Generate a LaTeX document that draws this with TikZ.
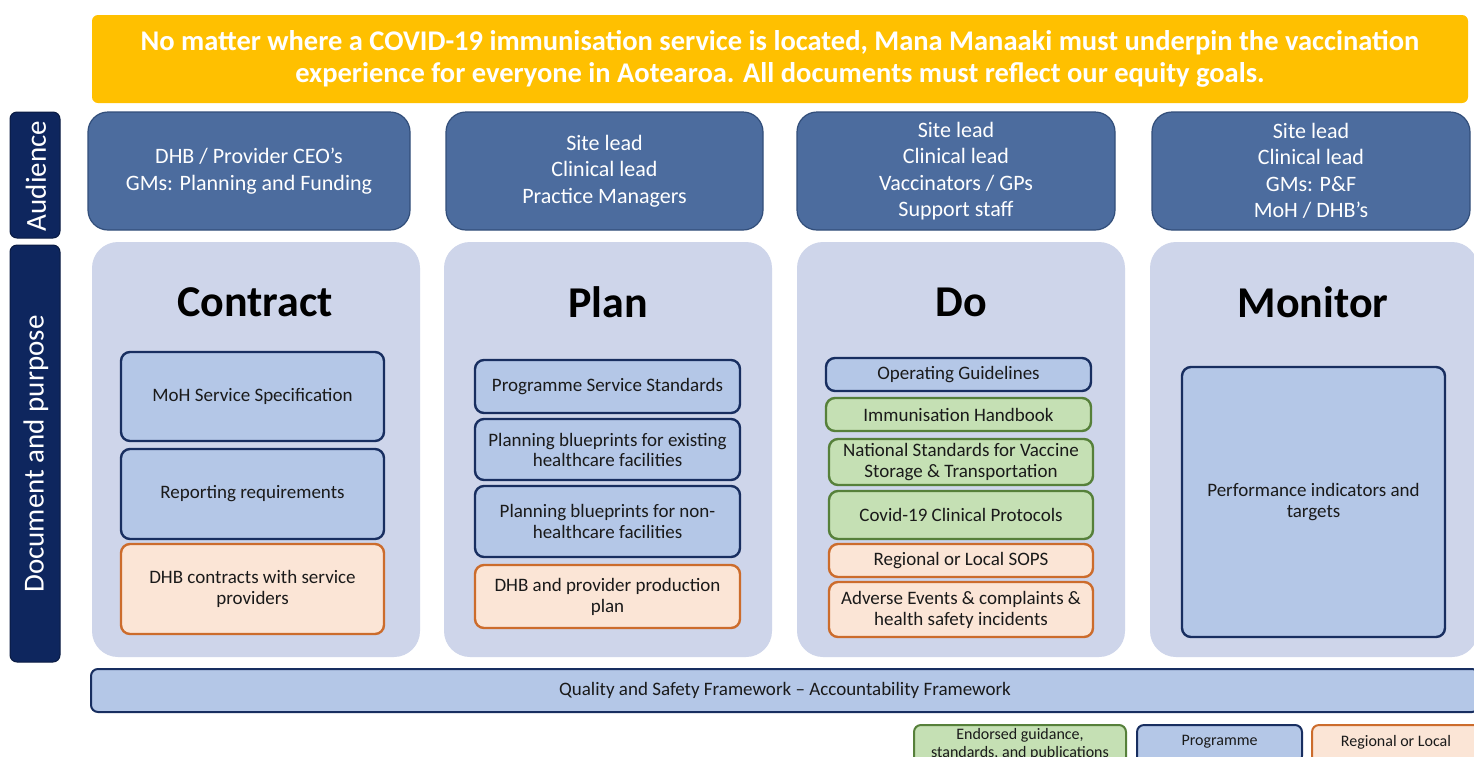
\documentclass[tikz,border=0pt]{standalone}
\usepackage{fontspec}
\setmainfont{Carlito}
\definecolor{ybanner}{RGB}{255,192,0}
\definecolor{audfill}{RGB}{76,108,158}
\definecolor{auddraw}{RGB}{50,78,122}
\definecolor{navylab}{RGB}{14,38,94}
\definecolor{colfill}{RGB}{206,213,234}
\definecolor{bluefill}{RGB}{180,199,231}
\definecolor{bluedraw}{RGB}{24,46,96}
\definecolor{orfill}{RGB}{251,229,214}
\definecolor{ordraw}{RGB}{204,108,44}
\definecolor{grfill}{RGB}{197,224,180}
\definecolor{grdraw}{RGB}{86,128,58}
\definecolor{txt}{RGB}{26,26,26}
\tikzset{
  banner/.style={fill=ybanner, rounded corners=6pt, inner sep=0pt, text=white, align=center,
    font=\fontsize{28.5}{32}\selectfont\bfseries},
  sidelab/.style={fill=navylab, draw=navylab!70!black, line width=1pt, rounded corners=7pt, inner sep=0pt, text=white},
  sidetext/.style={text=white, font=\fontsize{29}{30}\selectfont, rotate=90, inner sep=0pt},
  audbox/.style={fill=audfill, draw=auddraw, line width=1.2pt, rounded corners=20pt, inner sep=0pt, text=white, align=center,
    font=\fontsize{22}{26.5}\selectfont},
  colbox/.style={fill=colfill, rounded corners=26pt, inner sep=0pt},
  coltitle/.style={font=\fontsize{44}{48}\selectfont\bfseries, text=black, inner sep=0pt},
  bluebox/.style={fill=bluefill, draw=bluedraw, line width=2.4pt, rounded corners=9pt, inner sep=0pt, text=txt, align=center,
    font=\fontsize{19}{21}\selectfont},
  orbox/.style={bluebox, fill=orfill, draw=ordraw},
  grbox/.style={bluebox, fill=grfill, draw=grdraw},
  smallfont/.style={font=\fontsize{19}{21}\selectfont},
  legfont/.style={font=\fontsize{16}{18.5}\selectfont, line width=2pt},
}
\begin{document}
\begin{tikzpicture}[x=1pt,y=-1pt]
\useasboundingbox (0,0) rectangle (1474,756);
\clip (0,0) rectangle (1474,756);
\fill[white] (0,0) rectangle (1474,756);

% banner
\node[banner, minimum width=1376, minimum height=88] (banner) at (780,59)
  {No matter where a COVID-19 immunisation service is located, Mana Manaaki must underpin the vaccination\\
   experience for everyone in Aotearoa. All documents must reflect our equity goals.};

% side labels
\node[sidelab, minimum width=50, minimum height=126] (audlab) at (35,175) {};
\node[sidetext] (audtext) at (36,176) {Audience};
\node[sidelab, minimum width=50, minimum height=417] (doclab) at (35,453.5) {};
\node[sidetext] (doctext) at (36,454) {Document and purpose};

% audience boxes
\node[audbox, minimum width=322, minimum height=118] (a1) at (249,171) {DHB / Provider CEO’s\\GMs: Planning and Funding};
\node[audbox, minimum width=317, minimum height=118] (a2) at (604.5,171) {Site lead\\Clinical lead\\Practice Managers};
\node[audbox, minimum width=318, minimum height=118] (a3) at (956,171) {Site lead\\Clinical lead\\Vaccinators / GPs\\Support staff};
\node[audbox, minimum width=318, minimum height=118] (a4) at (1311,171) {Site lead\\Clinical lead\\GMs: P\&F\\MoH / DHB’s};

% columns
\node[colbox, minimum width=328, minimum height=415] (c1) at (256,449.5) {};
\node[colbox, minimum width=328, minimum height=415] (c2) at (608,449.5) {};
\node[colbox, minimum width=328, minimum height=415] (c3) at (961,449.5) {};
\node[colbox, minimum width=328, minimum height=415] (c4) at (1314,449.5) {};

\node[coltitle] (t1) at (255,302) {Contract};
\node[coltitle] (t2) at (608,302) {Plan};
\node[coltitle] (t3) at (961,302) {Do};
\node[coltitle] (t4) at (1313,302) {Monitor};

% contract boxes
\node[bluebox, minimum width=263, minimum height=89] (moh) at (252.5,396.5) {MoH Service Specification};
\node[bluebox, minimum width=263, minimum height=90] (rep) at (252.5,494) {Reporting requirements};
\node[orbox, minimum width=263, minimum height=90] (dhbc) at (252.5,589) {DHB contracts with service\\providers};

% plan boxes
\node[bluebox, minimum width=265, minimum height=53] (pss) at (607.5,386.5) {Programme Service Standards};
\node[bluebox, minimum width=265, minimum height=61, font=\fontsize{19}{20}\selectfont] (pbe) at (607.5,449.5) {Planning blueprints for existing\\healthcare facilities};
\node[bluebox, minimum width=265, minimum height=71] (pbn) at (607.5,521.5) {Planning blueprints for non-\\healthcare facilities};
\node[orbox, minimum width=265, minimum height=63] (dpp) at (607.5,596.5) {DHB and provider production\\plan};

% do boxes
\node[bluebox, smallfont, minimum width=265, minimum height=33] (og) at (958.5,374.5) {Operating Guidelines};
\node[grbox, smallfont, minimum width=265, minimum height=33] (ih) at (958.5,414.5) {Immunisation Handbook};
\node[grbox, smallfont, minimum width=264, minimum height=46] (ns) at (961,462) {National Standards for Vaccine\\Storage \& Transportation};
\node[grbox, smallfont, minimum width=264, minimum height=48] (cp) at (961,515) {Covid-19 Clinical Protocols};
\node[orbox, smallfont, minimum width=264, minimum height=33] (rs) at (961,560.5) {Regional or Local SOPS};
\node[orbox, smallfont, minimum width=264, minimum height=55] (ae) at (961,609.5) {Adverse Events \& complaints \&\\health safety incidents};

% monitor box
\node[bluebox, minimum width=263, minimum height=270] (mon) at (1313.5,502) {Performance indicators and\\targets};

% quality bar
\node[bluebox, line width=2pt, rounded corners=7pt, minimum width=1388, minimum height=43] (qual) at (785,690.5) {};
\node[text=txt, font=\fontsize{19}{21}\selectfont] (qualtext) at (785,690.5) {Quality and Safety Framework – Accountability Framework};

% legend
\node[grbox, legfont, rounded corners=7pt, minimum width=212, minimum height=54, anchor=north] (lg) at (1020,724) {};
\node[text=txt, legfont, align=center, anchor=north, inner sep=0pt] (lgtext) at (1020,727) {Endorsed guidance,\\standards, and publications};
\node[bluebox, legfont, rounded corners=7pt, minimum width=165, minimum height=38, anchor=north] (lp) at (1219.5,724) {};
\node[text=txt, legfont] (lptext) at (1219.5,742) {Programme};
\node[orbox, legfont, rounded corners=7pt, minimum width=170, minimum height=38, anchor=north] (lr) at (1397,724) {};
\node[text=txt, legfont] (lrtext) at (1396,742) {Regional or Local};
\end{tikzpicture}
\end{document}
